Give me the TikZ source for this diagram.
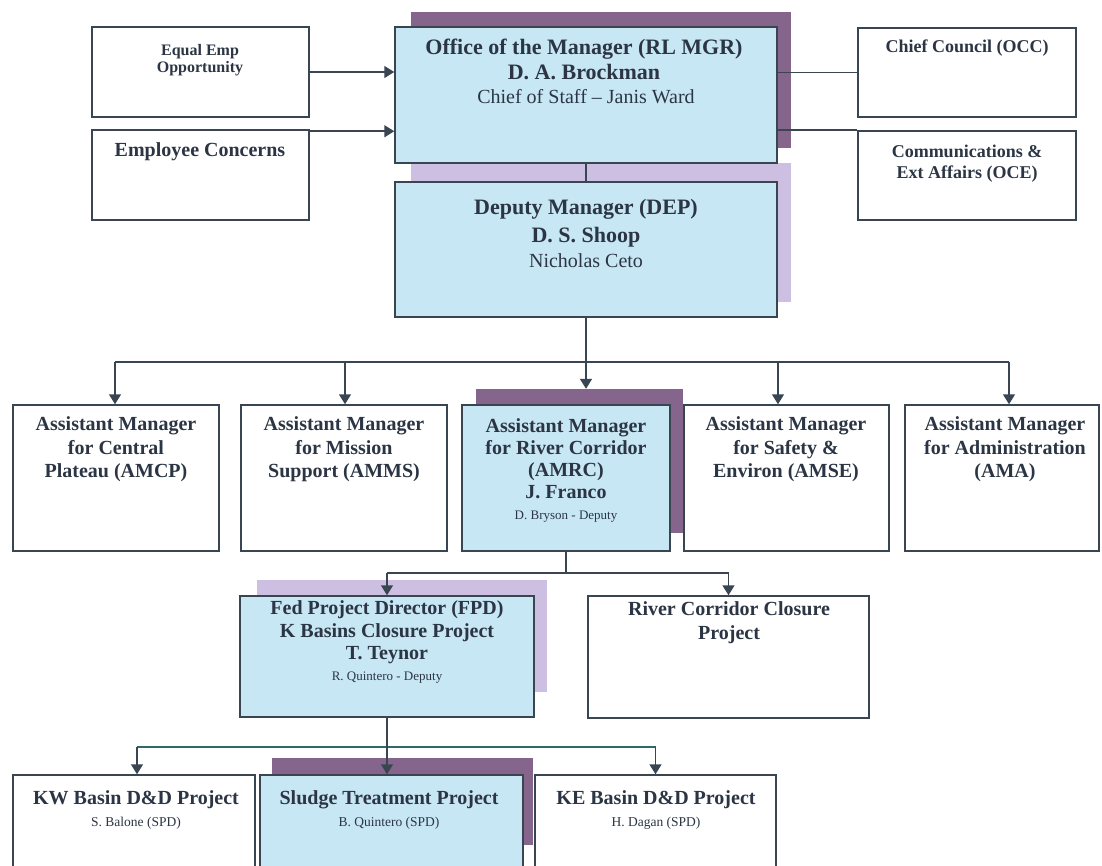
\documentclass[tikz,border=0pt]{standalone}
\usepackage{fontspec}
\setmainfont{Liberation Serif}
\usetikzlibrary{arrows.meta}
\definecolor{ln}{HTML}{3A4552}
\definecolor{tx}{HTML}{2B3544}
\definecolor{bl}{HTML}{C8E7F5}
\definecolor{shd}{HTML}{86658C}
\definecolor{shl}{HTML}{CDBFE2}
\definecolor{busb}{HTML}{2F6868}
\newcommand\mybox[6]{\node[#6, minimum width={(#4-#2)*1pt}, minimum height={(#5-#3)*1pt}] (#1) at ({(#2+#4)/2},{(#3+#5)/2}) {};}
\newcommand\tl[5]{\node[tl,#4] (#1) at (#2,#3) {#5};}
\tikzset{
  box/.style={draw=ln, line width=1.5pt, fill=white, inner sep=0pt},
  bbox/.style={box, fill=bl},
  shadow/.style={fill=#1, draw=none, inner sep=0pt},
  line/.style={draw=ln, line width=1.5pt},
  arr/.style={line, -{Triangle[width=12pt,length=10pt]}},
  tl/.style={anchor=mid, inner sep=0pt, text=tx},
  bA/.style={font=\fontsize{22}{26}\selectfont\bfseries},
  rA/.style={font=\fontsize{20}{23}\selectfont},
  bB/.style={font=\fontsize{20}{24}\selectfont\bfseries},
  bC/.style={font=\fontsize{18}{21}\selectfont\bfseries},
  bD/.style={font=\fontsize{16}{19}\selectfont\bfseries},
  rS/.style={font=\fontsize{13}{15}\selectfont},
  rT/.style={font=\fontsize{13.5}{16}\selectfont},
}
\begin{document}
\begin{tikzpicture}[x=1pt,y=-1pt]
\useasboundingbox (0,0) rectangle (1102,866);
\clip (0,0) rectangle (1102,866);
\fill[white] (0,0) rectangle (1102,866);
% shadows
\mybox{shoff}{411}{12}{791}{148}{shadow=shd}
\mybox{shdep}{411}{163}{791}{302}{shadow=shl}
\mybox{shamrc}{476}{389}{683}{533}{shadow=shd}
\mybox{shfpd}{257}{580}{547}{692}{shadow=shl}
\mybox{shstp}{272}{758}{533}{845}{shadow=shd}
% top row
\mybox{eeo}{92}{27}{309}{117}{box}
\mybox{ec}{92}{130}{309}{220}{box}
\mybox{off}{395}{27}{777}{163}{bbox}
\mybox{occ}{858}{28}{1076}{117}{box}
\mybox{oce}{858}{131}{1076}{220}{box}
\mybox{dep}{395}{182}{777}{317}{bbox}
% second row
\mybox{amcp}{13}{405}{219}{551}{box}
\mybox{amms}{241}{405}{447}{551}{box}
\mybox{amrc}{462}{405}{670}{551}{bbox}
\mybox{amse}{684}{405}{889}{551}{box}
\mybox{ama}{905}{405}{1099}{551}{box}
% third row
\mybox{fpd}{240}{596}{534}{717}{bbox}
\mybox{rcc}{588}{596}{869}{718}{box}
% bottom row
\mybox{kw}{13}{775}{255}{900}{box}
\mybox{stp}{260}{775}{523}{900}{bbox}
\mybox{ke}{535}{775}{776}{900}{box}
% texts
\tl{t1}{200}{53}{bD}{Equal Emp}
\tl{t2}{200}{70}{bD}{Opportunity}
\tl{t3}{200}{154}{bB}{Employee Concerns}
\tl{t4}{584}{52}{bA}{Office of the Manager (RL MGR)}
\tl{t5}{584}{77}{bA}{D. A. Brockman}
\tl{t6}{586}{101}{rA}{Chief of Staff -- Janis Ward}
\tl{t7}{967}{50}{bC}{Chief Council (OCC)}
\tl{t8}{967}{155}{bC}{Communications \&}
\tl{t9}{967}{176}{bC}{Ext Affairs (OCE)}
\tl{t10}{586}{212}{bA}{Deputy Manager (DEP)}
\tl{t11}{586}{240}{bA}{D. S. Shoop}
\tl{t12}{586}{265}{rA}{Nicholas Ceto}
\tl{t13}{116}{428}{bB}{Assistant Manager}
\tl{t14}{116}{452}{bB}{for Central}
\tl{t15}{116}{475}{bB}{Plateau (AMCP)}
\tl{t16}{344}{428}{bB}{Assistant Manager}
\tl{t17}{344}{452}{bB}{for Mission}
\tl{t18}{344}{475}{bB}{Support (AMMS)}
\tl{t19}{566}{430}{bB}{Assistant Manager}
\tl{t20}{566}{452}{bB}{for River Corridor}
\tl{t21}{566}{474}{bB}{(AMRC)}
\tl{t22}{566}{496}{bB}{J. Franco}
\tl{t23}{566}{517}{rS}{D. Bryson - Deputy}
\tl{t24}{786}{428}{bB}{Assistant Manager}
\tl{t25}{786}{452}{bB}{for Safety \&}
\tl{t26}{786}{475}{bB}{Environ (AMSE)}
\tl{t27}{1005}{428}{bB}{Assistant Manager}
\tl{t28}{1005}{452}{bB}{for Administration}
\tl{t29}{1005}{475}{bB}{(AMA)}
\tl{t30}{387}{612}{bB}{Fed Project Director (FPD)}
\tl{t31}{387}{635}{bB}{K Basins Closure Project}
\tl{t32}{387}{657}{bB}{T. Teynor}
\tl{t33}{387}{678}{rS}{R. Quintero - Deputy}
\tl{t34}{729}{613}{bB}{River Corridor Closure}
\tl{t35}{729}{637}{bB}{Project}
\tl{t36}{136}{802}{bB}{KW Basin D\&D Project}
\tl{t37}{136}{824}{rT}{S. Balone (SPD)}
\tl{t38}{389}{802}{bB}{Sludge Treatment Project}
\tl{t39}{389}{824}{rT}{B. Quintero (SPD)}
\tl{t40}{656}{802}{bB}{KE Basin D\&D Project}
\tl{t41}{656}{824}{rT}{H. Dagan (SPD)}
% connectors
\draw[arr] (eeo.east) -- (eeo.east -| off.west);
\draw[arr] ([yshift=-2pt]ec.north east) -- ([yshift=-2pt]ec.north east -| off.west);
\draw[line] (occ.west -| off.east) -- (occ.west);
\draw[line] (oce.north west -| off.east) -- (oce.north west);
\draw[line] (off.south) -- (dep.north);
\coordinate (bus) at (586,362);
\draw[line] (dep.south) -- (bus);
\draw[line] ([xshift=-1pt]amcp.north |- bus) -- ([xshift=7pt]ama.north |- bus);
\draw[arr] (bus) -- (bus |- shamrc.north);
\draw[arr] ([xshift=-1pt]amcp.north |- bus) -- ([xshift=-1pt]amcp.north);
\draw[arr] ([xshift=1pt]amms.north |- bus) -- ([xshift=1pt]amms.north);
\draw[arr] ([xshift=-8.5pt]amse.north |- bus) -- ([xshift=-8.5pt]amse.north);
\draw[arr] ([xshift=7pt]ama.north |- bus) -- ([xshift=7pt]ama.north);
\coordinate (sub) at (566,573);
\draw[line] (amrc.south) -- (sub);
\draw[line] (fpd.north |- sub) -- (rcc.north |- sub);
\draw[arr] (fpd.north |- sub) -- (fpd.north);
\draw[arr] (rcc.north |- sub) -- (rcc.north);
\coordinate (bot) at (387,747);
\draw[line,draw=busb] ([xshift=3pt]kw.north |- bot) -- (ke.north |- bot);
\draw[arr] (fpd.south) -- (fpd.south |- stp.north);
\draw[arr] ([xshift=3pt]kw.north |- bot) -- ([xshift=3pt]kw.north);
\draw[arr] (ke.north |- bot) -- (ke.north);
\end{tikzpicture}
\end{document}
